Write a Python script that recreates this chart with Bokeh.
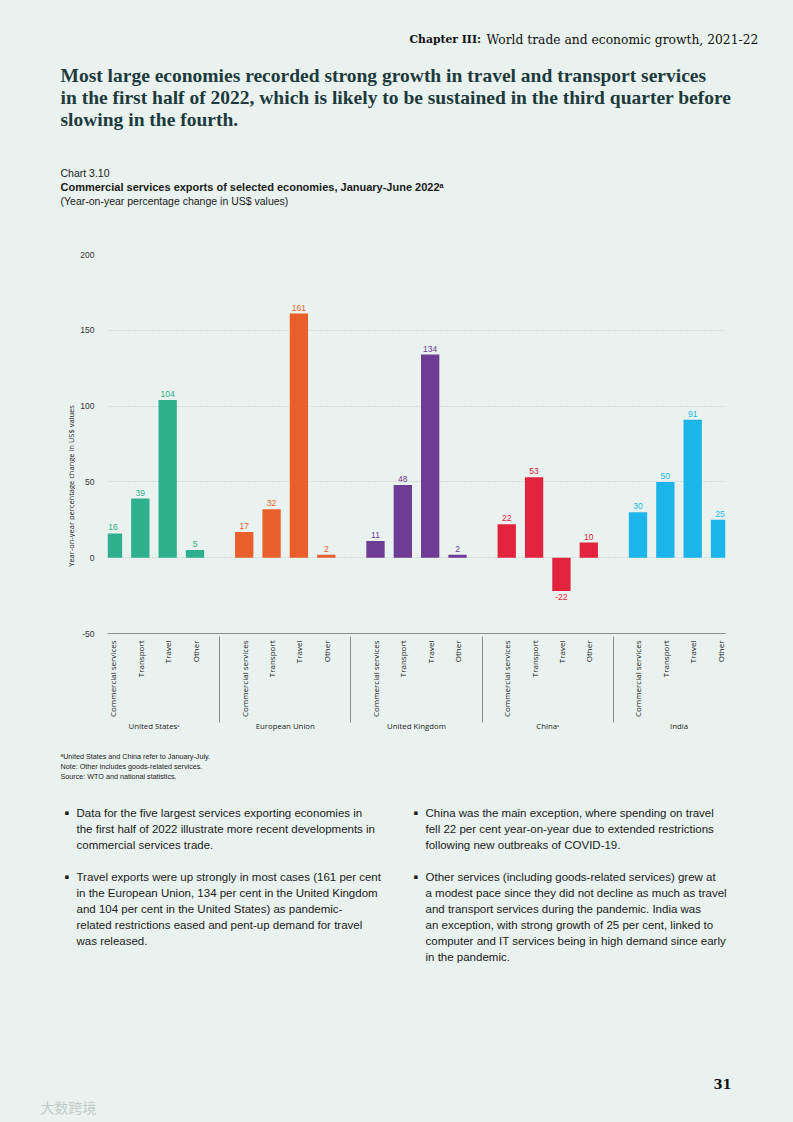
import math
from bokeh.plotting import figure
from bokeh.layouts import column, row
from bokeh.models import (FactorRange, ColumnDataSource, Label, FixedTicker,
                          Range1d, PrintfTickFormatter)
from bokeh.core.properties import value
from bokeh.embed import file_html
from bokeh.resources import INLINE

# ---------------- data ----------------
economies = ["United Statesᵃ", "European Union", "United Kingdom", "Chinaᵃ", "India"]
categories = ["Commercial services", "Transport", "Travel", "Other"]
us_values = [16, 39, 104, 5]
eu_values = [17, 32, 161, 2]
uk_values = [11, 48, 134, 2]
china_values = [22, 53, -22, 10]
india_values = [30, 50, 91, 25]
economy_colors = ["#2fb08c", "#e95f2b", "#6e3b95", "#e2233d", "#1cb5e9"]
y_ticks = [-50, 0, 50, 100, 150, 200]

series = [us_values, eu_values, uk_values, china_values, india_values]

x, top, col, lbl = [], [], [], []
for eco, vals, c in zip(economies, series, economy_colors):
    for cat, v in zip(categories, vals):
        x.append((eco, cat))
        top.append(v)
        col.append(c)
        lbl.append(str(v))

src = ColumnDataSource(dict(x=x, top=top, color=col, label=lbl))
pos = [i for i, v in enumerate(top) if v >= 0]
neg = [i for i, v in enumerate(top) if v < 0]
src_pos = ColumnDataSource({k: [src.data[k][i] for i in pos] for k in src.data})
src_neg = ColumnDataSource({k: [src.data[k][i] for i in neg] for k in src.data})

BG = "#e9f2ef"
W, H = 793, 1122
TOP_H = 244          # page y where chart figure starts
CHART_BOTTOM = 750   # page y where chart figure ends
YLAB_W = 75          # width of the strip holding the y-axis title
FRAME_L, FRAME_R, FRAME_T, FRAME_B = 107, 725, 254, 633


def text_fig(w, h, y0):
    f = figure(width=w, height=h, x_range=Range1d(0, w),
               y_range=Range1d(y0 + h, y0), x_axis_type=None, y_axis_type=None,
               output_backend="svg", toolbar_location=None, min_border=0)
    f.background_fill_color = BG
    f.border_fill_color = BG
    f.outline_line_color = None
    f.grid.visible = False
    f.styles = {"background-color": BG}
    return f


def lab(f, px, py, text, size, font="Liberation Sans", style="normal",
        color="#1a1a1a", align="left", angle=0.0):
    f.add_layout(Label(x=px, y=py, text=text, text_font=font, text_font_size=size,
                       text_font_style=style, text_color=color, angle=angle,
                       text_align=align, text_baseline="middle"))


# ---------------- chart ----------------
p = figure(
    width=W - YLAB_W, height=CHART_BOTTOM - TOP_H,
    x_range=FactorRange(*x, group_padding=0.8, factor_padding=0.0,
                        range_padding=-0.3, range_padding_units="absolute"),
    y_range=Range1d(-50, 200),
    output_backend="svg", toolbar_location=None,
    min_border_left=FRAME_L - YLAB_W, min_border_right=W - FRAME_R,
    min_border_top=FRAME_T - TOP_H, min_border_bottom=CHART_BOTTOM - FRAME_B,
)
p.background_fill_color = BG
p.border_fill_color = BG
p.outline_line_color = None
p.styles = {"background-color": BG}

p.yaxis.ticker = FixedTicker(ticks=y_ticks)
p.yaxis.formatter = PrintfTickFormatter(format="%d")
p.yaxis.axis_line_color = None
p.yaxis.major_tick_line_color = None
p.yaxis.minor_tick_line_color = None
p.yaxis.major_label_text_font = "Liberation Sans"
p.yaxis.major_label_text_font_size = "8.5px"
p.yaxis.major_label_text_color = "#333333"
p.yaxis.major_label_standoff = 7

p.ygrid.ticker = FixedTicker(ticks=y_ticks)
p.ygrid.grid_line_color = "#bcc6c2"
p.ygrid.grid_line_dash = "1 2"
p.xgrid.visible = False

p.xaxis.major_label_orientation = math.pi / 2
p.xaxis.major_label_text_font = "Open Sans"
p.xaxis.major_label_text_font_size = "8px"
p.xaxis.major_label_text_color = "#222222"
p.xaxis.group_text_font = "Open Sans"
p.xaxis.group_text_font_size = "7.8px"
p.xaxis.group_text_font_style = "normal"
p.xaxis.group_text_color = "#222222"
p.xaxis.major_tick_line_color = None
p.xaxis.minor_tick_line_color = None
p.xaxis.axis_line_color = "#8c8c8c"
p.xaxis.separator_line_color = "#8c8c8c"
p.xaxis.separator_line_width = 1
p.xaxis.major_label_standoff = 1

p.vbar(x="x", top="top", bottom=0, width=0.67, source=src,
       fill_color="color", line_color=None)

p.text(x="x", y="top", text="label", source=src_pos, text_color="color",
       text_align="center", text_baseline="bottom", y_offset=-3,
       text_font=value("Liberation Sans"), text_font_size="8.5px")
p.text(x="x", y="top", text="label", source=src_neg, text_color="color",
       text_align="center", text_baseline="top", y_offset=3,
       text_font=value("Liberation Sans"), text_font_size="8.5px")

# ---------------- y-axis title strip ----------------
ylab = text_fig(YLAB_W, CHART_BOTTOM - TOP_H, TOP_H)
lab(ylab, 70, 553, "Year-on-year percentage change in US$ values", "7.5px",
    font="Open Sans", color="#222222", align="center", angle=math.pi / 2)

# ---------------- header ----------------
top_f = text_fig(W, TOP_H, 0)
lab(top_f, 409, 39, "Chapter III:", "10.8px", font="DejaVu Serif", style="bold", color="#111111")
lab(top_f, 486, 39, "World trade and economic growth, 2021-22", "12.3px", font="DejaVu Serif", color="#111111")

title_lines = [
    "Most large economies recorded strong growth in travel and transport services",
    "in the first half of 2022, which is likely to be sustained in the third quarter before",
    "slowing in the fourth.",
]
for i, t in enumerate(title_lines):
    lab(top_f, 60, 75 + 22 * i, t, "19.5px", font="Liberation Serif", style="bold", color="#1e3a3c")

lab(top_f, 60, 172, "Chart 3.10", "10.5px")
lab(top_f, 60, 186, "Commercial services exports of selected economies, January-June 2022ᵃ", "11px", style="bold")
lab(top_f, 60, 200, "(Year-on-year percentage change in US$ values)", "10.5px")

# ---------------- footer ----------------
bot = text_fig(W, H - CHART_BOTTOM, CHART_BOTTOM)
notes = [
    "ᵃUnited States and China refer to January-July.",
    "Note: Other includes goods-related services.",
    "Source: WTO and national statistics.",
]
for i, t in enumerate(notes):
    lab(bot, 60, 756 + 10 * i, t, "7.2px")

left_col = [
    ["Data for the five largest services exporting economies in",
     "the first half of 2022 illustrate more recent developments in",
     "commercial services trade."],
    ["Travel exports were up strongly in most cases (161 per cent",
     "in the European Union, 134 per cent in the United Kingdom",
     "and 104 per cent in the United States) as pandemic-",
     "related restrictions eased and pent-up demand for travel",
     "was released."],
]
right_col = [
    ["China was the main exception, where spending on travel",
     "fell 22 per cent year-on-year due to extended restrictions",
     "following new outbreaks of COVID-19."],
    ["Other services (including goods-related services) grew at",
     "a modest pace since they did not decline as much as travel",
     "and transport services during the pandemic. India was",
     "an exception, with strong growth of 25 per cent, linked to",
     "computer and IT services being in high demand since early",
     "in the pandemic."],
]
for bx, tx, paras in [(64, 76, left_col), (413, 425, right_col)]:
    yy = 812
    for para in paras:
        lab(bot, bx, yy, "▪", "7px", font="DejaVu Sans")
        for line in para:
            lab(bot, tx, yy, line, "11.5px")
            yy += 16
        yy += 16

lab(bot, 731, 1083, "31", "13px", font="DejaVu Serif", style="bold", color="#111111", align="right")
lab(bot, 40, 1106, "大数跨境", "14px", font="Noto Sans CJK SC", color="#c2ccc9")

mid = row(ylab, p, styles={"background-color": BG})
layout = column(top_f, mid, bot, styles={"background-color": BG})
open("out.html", "w").write(file_html(layout, INLINE))
